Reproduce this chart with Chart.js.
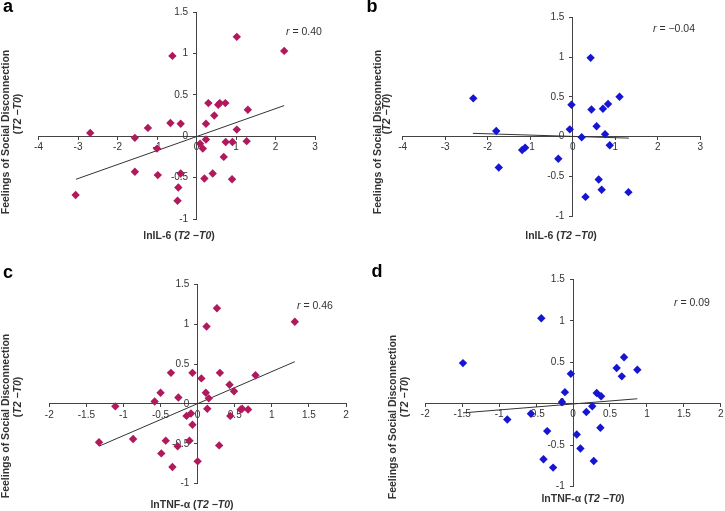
<!DOCTYPE html>
<html>
<head>
<meta charset="utf-8">
<script src="https://cdn.jsdelivr.net/npm/chart.js@4.4.0/dist/chart.umd.min.js"></script>
<style>
  body { margin: 0; background: #fff; }
  #wrap { position: relative; width: 725px; height: 511px; overflow: hidden; font-family: "Liberation Sans", Arial, sans-serif; color: #333; }
  .panel { position: absolute; }
  .t { position: absolute; white-space: nowrap; transform: translate(-50%, -50%); }
  .rot { transform: translate(-50%, -50%) rotate(-90deg); }
  .ttl { font-weight: bold; font-size: 10.5px; color: #333; }
  .lbl { font-weight: bold; font-size: 18px; color: #000; }
  .rv { font-size: 10.5px; color: #333; }
</style>
</head>
<body>
<div id="wrap">
  <div class="panel" style="left:0;top:0;width:362px;height:256px"><canvas id="chartA"></canvas></div>
  <div class="panel" style="left:362px;top:0;width:363px;height:256px"><canvas id="chartB"></canvas></div>
  <div class="panel" style="left:0;top:256px;width:362px;height:255px"><canvas id="chartC"></canvas></div>
  <div class="panel" style="left:362px;top:256px;width:363px;height:255px"><canvas id="chartD"></canvas></div>

  <div class="t lbl" style="left:8px;top:6px">a</div>
  <div class="t lbl" style="left:372px;top:6px">b</div>
  <div class="t lbl" style="left:8px;top:272px">c</div>
  <div class="t lbl" style="left:377px;top:271px">d</div>

  <div class="t ttl rot" style="left:5px;top:132px">Feelings of Social Disconnection</div>
  <div class="t ttl rot" style="left:17px;top:114px">(<i>T2 −T0</i>)</div>
  <div class="t ttl rot" style="left:377px;top:132px">Feelings of Social Disconnection</div>
  <div class="t ttl rot" style="left:386px;top:114px">(<i>T2 −T0</i>)</div>
  <div class="t ttl rot" style="left:5px;top:416px">Feelings of Social Disconnection</div>
  <div class="t ttl rot" style="left:17px;top:397px">(<i>T2 −T0</i>)</div>
  <div class="t ttl rot" style="left:392px;top:417px">Feelings of Social Disconnection</div>
  <div class="t ttl rot" style="left:404px;top:397px">(<i>T2 −T0</i>)</div>

  <div class="t ttl" style="left:179px;top:235px">lnIL-6 (<i>T2 −T0</i>)</div>
  <div class="t ttl" style="left:561px;top:235px">lnIL-6 (<i>T2 −T0</i>)</div>
  <div class="t ttl" style="left:192px;top:504px">lnTNF-α (<i>T2 −T0</i>)</div>
  <div class="t ttl" style="left:583px;top:498px">lnTNF-α (<i>T2 −T0</i>)</div>

  <div class="t rv" style="left:304px;top:31px"><i>r</i> = 0.40</div>
  <div class="t rv" style="left:674px;top:28px"><i>r</i> = −0.04</div>
  <div class="t rv" style="left:315px;top:305px"><i>r</i> = 0.46</div>
  <div class="t rv" style="left:692px;top:302px"><i>r</i> = 0.09</div>
</div>

<script>
  // panel a: lnIL-6 vs social disconnection (crimson)
  const il6X_a = [1.02, 2.22, -0.61, 0.30, 0.55, 0.59, 0.73, 1.30, 0.45, -0.66, -0.40, 0.24, -1.23, -2.69, -1.56, 1.02,
                  0.09, 0.16, 0.24, 0.74, 0.91, 1.27, -1.00, 0.69, -1.56, -0.98, -0.40, 0.41, 0.20, 0.90, -0.46, -0.48, -3.06];
  const il6Y_a = [1.20, 1.03, 0.97, 0.40, 0.38, 0.40, 0.40, 0.32, 0.25, 0.16, 0.15, 0.15, 0.10, 0.04, -0.02, 0.08,
                  -0.09, -0.15, -0.04, -0.07, -0.07, -0.06, -0.15, -0.25, -0.43, -0.47, -0.45, -0.45, -0.51, -0.52, -0.62, -0.78, -0.71];
  const fitX_a = [-3.05, 2.22];
  const fitY_a = [-0.52, 0.37];

  // panel b: lnIL-6 (blue)
  const il6X_b = [0.42, -2.34, 1.10, -0.03, 0.44, 0.71, 0.83, 0.56, -0.07, -1.80, 0.76, 0.21, 0.87, -1.12, -1.19, -0.34, -1.74, 0.61, 0.68, 1.31, 0.30];
  const il6Y_b = [0.99, 0.48, 0.50, 0.40, 0.34, 0.35, 0.41, 0.13, 0.09, 0.07, 0.03, -0.01, -0.11, -0.14, -0.17, -0.28, -0.39, -0.54, -0.67, -0.70, -0.76];
  const fitX_b = [-2.35, 1.32];
  const fitY_b = [0.04, -0.02];

  // panel c: lnTNF-a (crimson)
  const tnfX_c = [0.26, 1.31, 0.12, -0.36, -0.07, 0.30, 0.78, 0.05, 0.43, -0.50, 0.11, 0.49, -0.26, 0.15, -0.58, -1.11, 0.13,
                  -0.15, -0.09, 0.44, 0.58, 0.60, 0.68, -0.07, -0.87, -0.43, -0.11, -0.27, 0.29, -1.33, -0.49, 0.00, -0.34];
  const tnfY_c = [1.20, 1.03, 0.97, 0.39, 0.39, 0.39, 0.36, 0.32, 0.24, 0.14, 0.14, 0.16, 0.08, 0.07, 0.03, -0.03, -0.06,
                  -0.15, -0.12, -0.15, -0.07, -0.06, -0.07, -0.26, -0.44, -0.46, -0.46, -0.53, -0.52, -0.48, -0.62, -0.72, -0.79];
  const fitX_c = [-1.33, 1.31];
  const fitY_c = [-0.53, 0.53];

  // panel d: lnTNF-a (blue)
  const tnfX_d = [-0.43, -1.49, 0.69, 0.59, 0.87, 0.66, -0.03, -0.11, 0.32, 0.38, -0.15, 0.26, -0.57, 0.18, -0.89, -0.35, 0.05, 0.37, 0.10, -0.40, -0.27, 0.28];
  const tnfY_d = [1.03, 0.49, 0.56, 0.43, 0.41, 0.33, 0.36, 0.14, 0.13, 0.09, 0.02, -0.03, -0.12, -0.10, -0.19, -0.33, -0.37, -0.29, -0.54, -0.67, -0.77, -0.69];
  const fitX_d = [-1.49, 0.87];
  const fitY_d = [-0.11, 0.06];

  const yTicks = [-1, -0.5, 0, 0.5, 1, 1.5];

  const crimson = '#B0195C';
  const blue = '#1515D2';
  const axisCol = '#444';

  function pts(xs, ys) {
    return xs.map((x, i) => ({ x: x, y: ys[i] }));
  }

  function panel(id, xs, ys, fx, fy, color, xmin, xmax, xstep, pad) {
    new Chart(document.getElementById(id), {
      type: 'scatter',
      data: {
        datasets: [{
          data: pts(xs, ys),
          pointStyle: 'rectRot',
          pointRadius: 4.2,
          backgroundColor: color,
          borderColor: color,
          borderWidth: 0
        }, {
          type: 'line',
          data: pts(fx, fy),
          showLine: true,
          borderColor: '#333',
          borderWidth: 1,
          pointRadius: 0,
          fill: false
        }]
      },
      options: {
        animation: false,
        responsive: true,
        maintainAspectRatio: false,
        layout: { padding: pad },
        plugins: { legend: { display: false }, tooltip: { enabled: false } },
        scales: {
          x: {
            type: 'linear',
            position: { y: 0 },
            min: xmin, max: xmax,
            ticks: { stepSize: xstep, color: '#333', font: { size: 10, family: 'Liberation Sans' }, padding: 2,
                     callback: v => String(v) },
            grid: { drawOnChartArea: false, tickLength: 3, color: axisCol },
            border: { color: axisCol, width: 1 },
            afterFit: s => { s.height = 0; s.paddingLeft = 0; s.paddingRight = 0; }
          },
          y: {
            type: 'linear',
            position: { x: 0 },
            min: -1, max: 1.5,
            afterBuildTicks: s => { s.ticks = yTicks.map(v => ({ value: v })); },
            // trailing spaces push the right-aligned labels off the axis line
            ticks: { color: '#333', font: { size: 10, family: 'Liberation Sans' }, padding: 3,
                     callback: v => String(v) + '   ' },
            grid: { drawOnChartArea: false, tickLength: 3, color: axisCol },
            border: { color: axisCol, width: 1 },
            afterFit: s => { s.width = 0; s.paddingTop = 0; s.paddingBottom = 0; }
          }
        }
      }
    });
  }

  panel('chartA', il6X_a, il6Y_a, fitX_a, fitY_a, crimson, -4, 3, 1, { left: 38.5, right: 47, top: 12, bottom: 37 });
  panel('chartB', il6X_b, il6Y_b, fitX_b, fitY_b, blue, -4, 3, 1, { left: 40.7, right: 24.7, top: 17.3, bottom: 40 });
  panel('chartC', tnfX_c, tnfY_c, fitX_c, fitY_c, crimson, -2, 2, 0.5, { left: 49.3, right: 16, top: 28.3, bottom: 27.3 });
  panel('chartD', tnfX_d, tnfY_d, fitX_d, fitY_d, blue, -2, 2, 0.5, { left: 63.3, right: 3.7, top: 23.3, bottom: 24.3 });
</script>
</body>
</html>
